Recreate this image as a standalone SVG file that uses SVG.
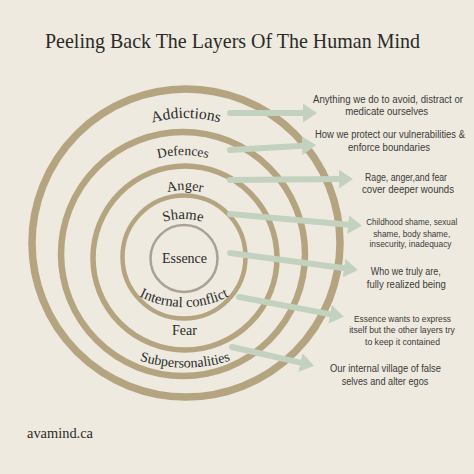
<svg xmlns="http://www.w3.org/2000/svg" width="474" height="474" viewBox="0 0 474 474">
<style>
.ring{fill:none;stroke:#b4a47f}
.lbl{font-family:"Liberation Serif",serif;fill:#2a2a28}
.desc{font-family:"Liberation Sans",Arial,sans-serif;fill:#3a3a38;text-anchor:middle}
.arr{stroke:#c3d2be;stroke-width:6;fill:none;stroke-linecap:round;marker-end:url(#head)}
</style>
<defs>
<marker id="head" markerUnits="userSpaceOnUse" viewBox="0 0 14 19" markerWidth="14" markerHeight="19" refX="1" refY="9.5" orient="auto">
<path d="M0,0 L14,9.5 L0,19 Z" fill="#c3d2be"/>
</marker>
<path id="pAdd" d="M105.6,147.2 A125,125 0 0 1 266.4,147.2"/>
<path id="pDef" d="M119.4,178.2 A99,99 0 0 1 246.6,178.2"/>
<path id="pAng" d="M136.9,209.9 A68,68 0 0 1 233.1,209.9"/>
<path id="pSha" d="M133.5,239.5 A70,70 0 0 1 232.5,239.5"/>
<path id="pInt" d="M126.6,288.9 A100,100 0 0 0 241.4,288.9"/>
<path id="pSub" d="M133.7,358.5 A150,150 0 0 0 236.3,358.5"/>
</defs>
<rect width="474" height="474" fill="#eeeae0"/>
<text x="232.5" y="48" text-anchor="middle" font-family="Liberation Serif,serif" font-size="22" fill="#2a2a28" textLength="375" lengthAdjust="spacingAndGlyphs">Peeling Back The Layers Of The Human Mind</text>
<g id="rings">
<circle id="ring-addictions" class="ring" cx="186" cy="243" r="154" stroke-width="7.5"/>
<circle id="ring-defences" class="ring" cx="183" cy="254" r="122" stroke-width="6.5"/>
<circle id="ring-anger" class="ring" cx="185" cy="258" r="92" stroke-width="5.5"/>
<circle id="ring-shame" class="ring" cx="184" cy="257" r="61.5" stroke-width="4.5"/>
<circle id="ring-essence" cx="184" cy="258.5" r="33.5" fill="none" stroke="#aaa194" stroke-width="2.5"/>
</g>
<g id="labels">
<g id="addictions"><text class="lbl" font-size="15.5" text-anchor="middle"><textPath href="#pAdd" startOffset="50%">Addictions</textPath></text></g>
<g id="defences"><text class="lbl" font-size="13.5" text-anchor="middle"><textPath href="#pDef" startOffset="50%">Defences</textPath></text></g>
<g id="anger"><text class="lbl" font-size="14" text-anchor="middle"><textPath href="#pAng" startOffset="50%">Anger</textPath></text></g>
<g id="shame"><text class="lbl" font-size="14.5" text-anchor="middle"><textPath href="#pSha" startOffset="50%">Shame</textPath></text></g>
<g id="essence"><text class="lbl" x="184.5" y="263" font-size="14" text-anchor="middle">Essence</text></g>
<g id="internal-conflict"><text class="lbl" font-size="14.5" text-anchor="middle"><textPath href="#pInt" startOffset="50%">Internal conflict</textPath></text></g>
<g id="fear"><text class="lbl" x="184.5" y="335" font-size="14" text-anchor="middle">Fear</text></g>
<g id="subpersonalities"><text class="lbl" font-size="14" text-anchor="middle"><textPath href="#pSub" startOffset="50%">Subpersonalities</textPath></text></g>
</g>
<g id="connectors">
<line class="arr" x1="230" y1="113" x2="304" y2="113"/>
<line class="arr" x1="230" y1="150" x2="303" y2="145.8"/>
<line class="arr" x1="230" y1="180" x2="340" y2="179.1"/>
<line class="arr" x1="230" y1="214" x2="349" y2="224.7"/>
<line class="arr" x1="230" y1="253" x2="345" y2="268.2"/>
<line class="arr" x1="239" y1="297" x2="331" y2="314.4"/>
<line class="arr" x1="232" y1="347" x2="301.4" y2="362.9"/>
</g>
<g id="descriptions">
<g id="d-addictions" font-size="10">
<text class="desc" x="388" y="103" textLength="150" lengthAdjust="spacingAndGlyphs">Anything we do to avoid, distract or</text>
<text class="desc" x="386.7" y="115.3" textLength="83" lengthAdjust="spacingAndGlyphs">medicate ourselves</text>
</g>
<g id="d-defences" font-size="10">
<text class="desc" x="390" y="138" textLength="150" lengthAdjust="spacingAndGlyphs">How we protect our vulnerabilities &amp;</text>
<text class="desc" x="389" y="150.7" textLength="82" lengthAdjust="spacingAndGlyphs">enforce boundaries</text>
</g>
<g id="d-anger" font-size="10">
<text class="desc" x="406" y="181.3" textLength="82" lengthAdjust="spacingAndGlyphs">Rage, anger,and fear</text>
<text class="desc" x="408" y="193" textLength="92" lengthAdjust="spacingAndGlyphs">cover deeper wounds</text>
</g>
<g id="d-shame" font-size="9">
<text class="desc" x="411.7" y="225" textLength="91" lengthAdjust="spacingAndGlyphs">Childhood shame, sexual</text>
<text class="desc" x="411.7" y="236.7" textLength="77" lengthAdjust="spacingAndGlyphs">shame, body shame,</text>
<text class="desc" x="410.5" y="246.7" textLength="82" lengthAdjust="spacingAndGlyphs">insecurity, inadequacy</text>
</g>
<g id="d-essence" font-size="11">
<text class="desc" x="405.8" y="275" textLength="70" lengthAdjust="spacingAndGlyphs">Who we truly are,</text>
<text class="desc" x="406.3" y="288.3" textLength="79" lengthAdjust="spacingAndGlyphs">fully realized being</text>
</g>
<g id="d-internal" font-size="9.5">
<text class="desc" x="402.5" y="321.7" textLength="97" lengthAdjust="spacingAndGlyphs">Essence wants to express</text>
<text class="desc" x="402" y="333.3" textLength="105.7" lengthAdjust="spacingAndGlyphs">itself but the other layers try</text>
<text class="desc" x="402.5" y="345" textLength="75" lengthAdjust="spacingAndGlyphs">to keep it contained</text>
</g>
<g id="d-sub" font-size="11">
<text class="desc" x="385.5" y="372.3" textLength="111" lengthAdjust="spacingAndGlyphs">Our internal village of false</text>
<text class="desc" x="385" y="385" textLength="86.7" lengthAdjust="spacingAndGlyphs">selves and alter egos</text>
</g>
</g>
<text x="27" y="438" font-family="Liberation Serif,serif" font-size="15" fill="#2a2a28" textLength="66" lengthAdjust="spacingAndGlyphs">avamind.ca</text>
</svg>
